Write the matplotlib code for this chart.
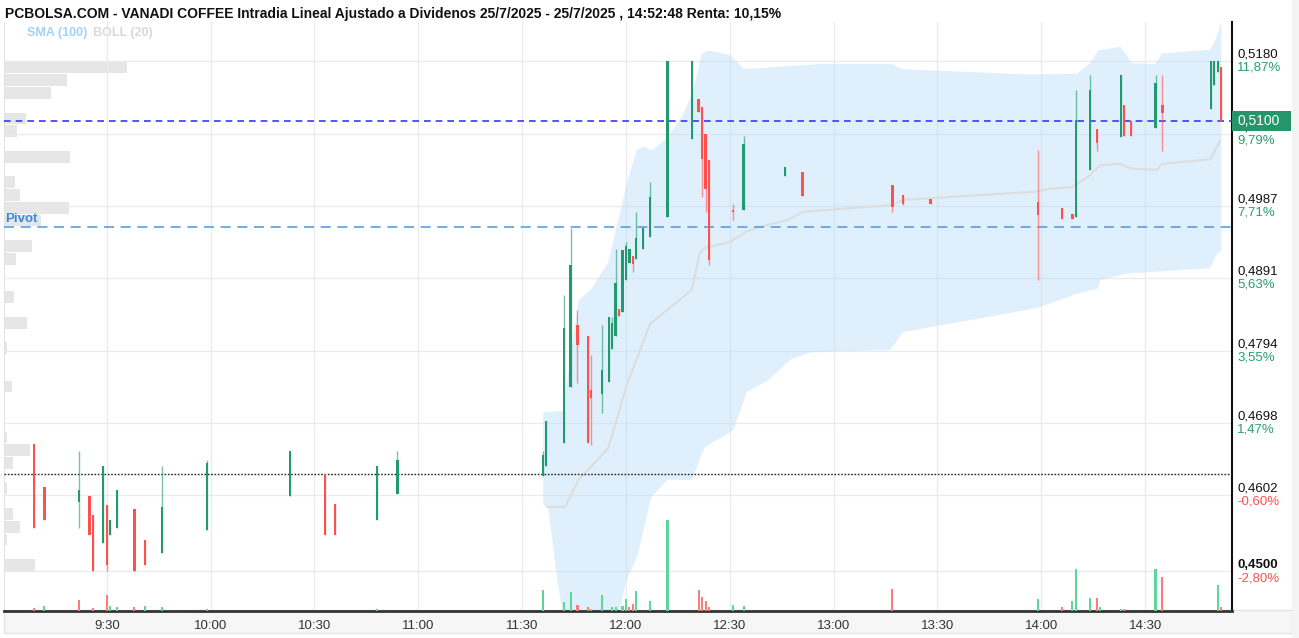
import matplotlib
matplotlib.use("Agg")
import matplotlib.pyplot as plt
import matplotlib.transforms as mtransforms
from matplotlib.patches import Rectangle
import numpy as np

plt.rcParams['font.family'] = ['Liberation Sans', 'DejaVu Sans']

# velas de 1 minuto (hora, apertura, maximo, minimo, cierre)
horas = ["09:09", "09:12", "09:22", "09:25", "09:26", "09:29", "09:30", "09:31", "09:33", "09:38", "09:41", "09:46", "09:59",
         "10:23", "10:33", "10:36", "10:48", "10:54",
         "11:36", "11:37", "11:42", "11:44", "11:46", "11:49", "11:50", "11:53", "11:55", "11:56", "11:57", "11:58", "11:59",
         "12:00", "12:01", "12:02", "12:03", "12:05", "12:07", "12:12", "12:19", "12:21", "12:22", "12:23", "12:24", "12:31", "12:34", "12:46", "12:51",
         "13:17", "13:20", "13:28", "13:59",
         "14:06", "14:09", "14:10", "14:14", "14:16", "14:23", "14:24", "14:26", "14:33", "14:35", "14:49", "14:50", "14:51", "14:52"]
apertura = [0.4670, 0.4613, 0.4592, 0.4600, 0.4575, 0.4538, 0.4589, 0.4549, 0.4558, 0.4583, 0.4542, 0.4525, 0.4555,
            0.4600, 0.4630, 0.4590, 0.4569, 0.4603,
            0.4627, 0.4640, 0.4671, 0.4746, 0.4828, 0.4814, 0.4742, 0.4736, 0.4753, 0.4797, 0.4814, 0.4850, 0.4845,
            0.4888, 0.4911, 0.4920, 0.4916, 0.4930, 0.4945, 0.4972, 0.5076, 0.5129, 0.5119, 0.5083, 0.5048, 0.4982, 0.4981, 0.5027, 0.5032,
            0.5015, 0.5001, 0.4996, 0.4992,
            0.4984, 0.4976, 0.4972, 0.5035, 0.5089, 0.5079, 0.5121, 0.5100, 0.5091, 0.5121, 0.5116, 0.5148, 0.5165, 0.5172]
maximo = [0.4670, 0.4613, 0.4660, 0.4600, 0.4575, 0.4640, 0.4589, 0.4569, 0.4609, 0.4583, 0.4542, 0.4640, 0.4649,
          0.4660, 0.4630, 0.4590, 0.4640, 0.4660,
          0.4660, 0.4700, 0.4868, 0.4958, 0.4848, 0.4814, 0.4788, 0.4828, 0.4839, 0.4839, 0.4929, 0.4850, 0.4928,
          0.4939, 0.4929, 0.4920, 0.4979, 0.4958, 0.5019, 0.5180, 0.5180, 0.5129, 0.5119, 0.5083, 0.5048, 0.4989, 0.5080, 0.5039, 0.5032,
          0.5015, 0.5001, 0.4996, 0.5061,
          0.4984, 0.4976, 0.5141, 0.5161, 0.5089, 0.5161, 0.5121, 0.5100, 0.5161, 0.5161, 0.5180, 0.5180, 0.5180, 0.5172]
minimo = [0.4558, 0.4569, 0.4558, 0.4549, 0.4500, 0.4538, 0.4500, 0.4549, 0.4558, 0.4500, 0.4508, 0.4525, 0.4555,
          0.4600, 0.4549, 0.4549, 0.4569, 0.4603,
          0.4627, 0.4640, 0.4671, 0.4746, 0.4751, 0.4671, 0.4669, 0.4711, 0.4753, 0.4797, 0.4814, 0.4840, 0.4845,
          0.4888, 0.4911, 0.4899, 0.4916, 0.4930, 0.4945, 0.4972, 0.5076, 0.5112, 0.4999, 0.4979, 0.4908, 0.4968, 0.4981, 0.5027, 0.5000,
          0.4979, 0.4988, 0.4990, 0.4888,
          0.4969, 0.4969, 0.4972, 0.5035, 0.5060, 0.5079, 0.5080, 0.5080, 0.5091, 0.5060, 0.5116, 0.5148, 0.5165, 0.5100]
cierre = [0.4558, 0.4569, 0.4609, 0.4549, 0.4500, 0.4640, 0.4509, 0.4569, 0.4609, 0.4500, 0.4508, 0.4586, 0.4644,
          0.4660, 0.4549, 0.4549, 0.4640, 0.4649,
          0.4655, 0.4700, 0.4824, 0.4908, 0.4802, 0.4671, 0.4731, 0.4768, 0.4839, 0.4831, 0.4884, 0.4840, 0.4928,
          0.4933, 0.4929, 0.4910, 0.4944, 0.4958, 0.4999, 0.5180, 0.5180, 0.5112, 0.5050, 0.5010, 0.4915, 0.4979, 0.5070, 0.5039, 0.5000,
          0.4986, 0.4990, 0.4990, 0.4975,
          0.4969, 0.4969, 0.5101, 0.5141, 0.5071, 0.5161, 0.5080, 0.5080, 0.5151, 0.5111, 0.5180, 0.5180, 0.5180, 0.5100]

# volumen por minuto (v = verde, r = rojo)
vol_horas = ["09:09", "09:12", "09:22", "09:26", "09:30", "09:31", "09:33", "09:38", "09:41", "09:46", "09:59", "10:48",
             "11:36", "11:42", "11:44", "11:46", "11:49", "11:50", "11:53", "11:56", "11:57", "11:59", "12:00", "12:01", "12:02", "12:03", "12:07", "12:12",
             "12:21", "12:22", "12:23", "12:24", "12:31", "12:34", "13:17", "13:59", "14:06", "14:09", "14:10", "14:14", "14:16", "14:17", "14:23", "14:24",
             "14:33", "14:35", "14:51", "14:52"]
vol_acciones = [6000, 10000, 22000, 6000, 32000, 10000, 8000, 8000, 10000, 8000, 4000, 4000,
                42000, 17000, 38000, 12000, 7000, 4000, 32000, 7000, 7000, 9000, 24000, 7000, 14000, 40000, 19000, 182000,
                41000, 27000, 19000, 7000, 12000, 9000, 43000, 23000, 7000, 19000, 84000, 25000, 25000, 7000, 4000, 4000,
                84000, 68000, 52000, 7000]
vol_color = ["r", "v", "r", "r", "r", "v", "v", "r", "v", "v", "v", "v",
             "v", "v", "v", "r", "r", "v", "v", "v", "v", "v", "v", "r", "r", "v", "v", "v",
             "r", "r", "r", "r", "v", "v", "r", "v", "r", "v", "v", "v", "r", "v", "v", "r",
             "v", "r", "v", "r"]

# perfil de volumen: 40 tramos entre minimo y maximo del dia
perfil_min, perfil_max = 0.4500, 0.5180
perfil = [31000, 0, 3000, 16000, 9000, 0, 3000, 0, 9000, 26000,
          3000, 0, 0, 0, 8000, 0, 0, 3000, 0, 23000,
          0, 10000, 0, 0, 12000, 28000, 0, 37000, 65000, 16000,
          11000, 0, 66000, 0, 13000, 22000, 0, 47000, 63000, 123000]

# bandas de Bollinger (20) y media SMA (100), minutos desde las 9:00
boll_sup_t = [156.1, 161.8, 166.3, 170.1, 174.9, 177.4, 180.3, 183.1, 185.0, 187.5, 192.3, 196.6, 199.5, 201.9, 203.8,
              210.1, 213.9, 216.7, 236.1, 256.8, 260.2, 296.8, 310.3, 314.1, 316.5, 322.8, 324.7, 326.2, 332.9, 334.8,
              348.8, 350.5, 352.0]
boll_sup = [0.4712, 0.4714, 0.4861, 0.4877, 0.4912, 0.4961, 0.5017, 0.5061, 0.5066, 0.5061, 0.5079, 0.5110, 0.5141, 0.5190, 0.5194,
            0.5188, 0.5170, 0.5170, 0.5176, 0.5176, 0.5169, 0.5162, 0.5163, 0.5177, 0.5194, 0.5199, 0.5188, 0.5177, 0.5176, 0.5190,
            0.5195, 0.5210, 0.5232]
boll_inf_t = [156.1, 157.5, 159.8, 161.6, 169.6, 177.7, 180.1, 183.4, 187.3, 191.9, 199.1, 199.5, 201.9, 202.9, 211.0,
              214.9, 221.2, 227.4, 233.2, 256.3, 260.1, 288.1, 298.8, 310.3, 316.4, 317.0, 324.8, 348.8, 350.8, 352.0]
boll_inf = [0.4589, 0.4586, 0.4502, 0.4446, 0.4390, 0.4440, 0.4487, 0.4522, 0.4599, 0.4622, 0.4622, 0.4626, 0.4657, 0.4666, 0.4688,
            0.4739, 0.4755, 0.4782, 0.4792, 0.4795, 0.4819, 0.4842, 0.4851, 0.4870, 0.4877, 0.4888, 0.4897, 0.4904, 0.4924, 0.4927]
sma_t = [157.2, 162.4, 166.3, 174.9, 180.2, 187.0, 199.0, 201.4, 202.9, 210.1, 214.9, 218.8, 226.5, 231.3, 236.1,
         244.8, 256.8, 260.2, 298.2, 302.5, 308.8, 313.6, 317.0, 322.8, 325.7, 333.4, 334.8, 348.8, 351.7]
sma = [0.4586, 0.4586, 0.4622, 0.4664, 0.4748, 0.4830, 0.4875, 0.4925, 0.4931, 0.4939, 0.4953, 0.4959, 0.4968, 0.4979, 0.4981,
       0.4984, 0.4988, 0.4995, 0.5006, 0.5010, 0.5012, 0.5026, 0.5041, 0.5043, 0.5037, 0.5035, 0.5043, 0.5049, 0.5074]

ultimo = 0.5100
pivot = 0.4959
cierre_ant = 0.4630

precio_ticks = [0.5180, 0.5083, 0.4987, 0.4891, 0.4794, 0.4698, 0.4602, 0.4500]
precio_txt = ["0,5180", "0,5083", "0,4987", "0,4891", "0,4794", "0,4698", "0,4602", "0,4500"]
renta_txt = ["11,87%", "9,79%", "7,71%", "5,63%", "3,55%", "1,47%", "-0,60%", "-2,80%"]

hora_ticks = [30, 60, 90, 120, 150, 180, 210, 240, 270, 300, 330]
hora_txt = ["9:30", "10:00", "10:30", "11:00", "11:30", "12:00", "12:30", "13:00", "13:30", "14:00", "14:30"]

titulo = ("PCBOLSA.COM - VANADI COFFEE Intradia Lineal Ajustado a Dividenos 25/7/2025 - 25/7/2025 , "
          "14:52:48 Renta: 10,15%")

VERDE = '#22996e'
ROJO = '#ff4f4f'


def minutos(h):
    hh, mm = h.split(":")
    return (int(hh) - 9) * 60 + int(mm)


W, H = 1299, 638
fig = plt.figure(figsize=(W / 100, H / 100), dpi=100)
fig.patch.set_facecolor('white')

# franja gris de las horas y borde derecho
fig.add_artist(Rectangle((4 / W, 5 / H), 1288 / W, 23 / H, transform=fig.transFigure,
                         facecolor='#f6f6f6', edgecolor='#e4e4e4', lw=1, zorder=0))
fig.add_artist(Rectangle((1292 / W, 0), 7 / W, 1, transform=fig.transFigure,
                         facecolor='#f3f3f3', edgecolor='none', zorder=0))

ax = fig.add_axes([4.3 / W, (H - 610.5) / H, (1232 - 4.3) / W, (610.5 - 22) / H])
ax.set_zorder(2)
ax.patch.set_visible(False)

# perfil de volumen a la izquierda (debajo de las velas)
ax_p = ax.twiny()
ax_p.set_zorder(1)
ax_p.axis('off')
paso = (perfil_max - perfil_min) / len(perfil)
centros = perfil_min + paso * (np.arange(len(perfil)) + 0.5)
ax_p.barh(centros, perfil, height=paso * 0.92, left=0, color='#e6e6e6', lw=0)
ax_p.set_xlim(0, 1228000)

# volumen abajo (encima de la banda)
ax_v = ax.twinx()
ax_v.set_zorder(3)
ax_v.axis('off')
tv = [minutos(h) for h in vol_horas]
cv = ['#5fd699' if c == 'v' else '#ff7a7a' for c in vol_color]
ax_v.bar(tv, vol_acciones, width=0.6, color=cv, lw=0)
ax_v.set_ylim(0, 1177000)

# bandas y media
ax.fill(np.r_[boll_sup_t, boll_inf_t[::-1]], np.r_[boll_sup, boll_inf[::-1]],
        color='#b9defa', alpha=0.45, lw=0, zorder=1)
ax.plot(sma_t, sma, color='#dddddd', lw=1.5, zorder=2)

ax.axhline(ultimo, color='#3737ff', lw=1.2, ls=(0, (4, 3)), zorder=3)
ax.axhline(pivot, color='#5c9de2', lw=1.2, ls=(0, (6, 4)), zorder=3)
ax.axhline(cierre_ant, color='#222222', lw=1, ls=(0, (1.2, 1.2)), zorder=3)

# velas
t = np.array([minutos(h) for h in horas])
o = np.array(apertura)
c = np.array(cierre)
colores = [VERDE if ci >= oi else ROJO for oi, ci in zip(o, c)]
ax.vlines(t, minimo, maximo, colors=colores, lw=1, alpha=0.6, zorder=4)
alto = np.maximum(np.abs(c - o), 0.00025)
ax.bar(t, alto, bottom=np.minimum(o, c), width=0.65, color=colores, lw=0, zorder=5)

ax.set_xlim(0.4, 355.1)
ax.set_ylim(0.4448, 0.5232)
ax.set_xticks(hora_ticks)
ax.set_xticklabels(hora_txt)
ax.set_yticks(precio_ticks)
ax.tick_params(axis='x', length=0, pad=7, labelsize=9.5, labelcolor='#333333')
ax.tick_params(axis='y', length=0, labelleft=False, labelright=False)
ax.grid(True, color='#ebebeb', lw=1)
ax.set_axisbelow(True)

ax.spines['top'].set_visible(False)
ax.spines['left'].set_color('#e2e2e2')
ax.spines['bottom'].set_color('#333333')
ax.spines['bottom'].set_linewidth(2)
ax.spines['right'].set_color('#111111')
ax.spines['right'].set_linewidth(1.5)

# etiquetas de precio y rentabilidad a la derecha
tr = mtransforms.blended_transform_factory(fig.transFigure, ax.transData)
for p, txt, rent in zip(precio_ticks, precio_txt, renta_txt):
    peso = 'bold' if p == 0.4500 else 'normal'
    fig.text(1237 / W, p + 0.00008, txt, transform=tr, fontsize=9.5, color='#111111',
             va='bottom', ha='left', fontweight=peso)
    fig.text(1237 / W, p - 0.00008, rent, transform=tr, fontsize=9.5,
             color=ROJO if rent.startswith('-') else '#2a9d6f', va='top', ha='left')

# caja del ultimo precio (tapa la etiqueta 0,5083 como en la web)
fig.add_artist(Rectangle((1232 / W, ultimo - 0.00135), 59 / W, 0.0027, transform=tr,
                         facecolor='#26966a', edgecolor='none', zorder=5))
fig.text(1237 / W, ultimo, "0,5100", transform=tr, fontsize=10, color='white',
         va='center', ha='left', zorder=6)

ax.text(0.0005, pivot + 0.0002, "Pivot", transform=mtransforms.blended_transform_factory(ax.transAxes, ax.transData),
        fontsize=9.5, fontweight='bold', color='#3b87d9', va='bottom', ha='left', zorder=6)

fig.text(5 / W, 1 - 14 / H, titulo, fontsize=10, fontweight='bold',
         va='center', ha='left', color='#111111')
fig.text(27 / W, 1 - 33 / H, "SMA (100)", fontsize=9, fontweight='bold',
         va='center', ha='left', color='#9fd3f7')
fig.text(93 / W, 1 - 33 / H, "BOLL (20)", fontsize=9, fontweight='bold',
         va='center', ha='left', color='#d9d9d9')

fig.savefig("out.png", dpi=100)
